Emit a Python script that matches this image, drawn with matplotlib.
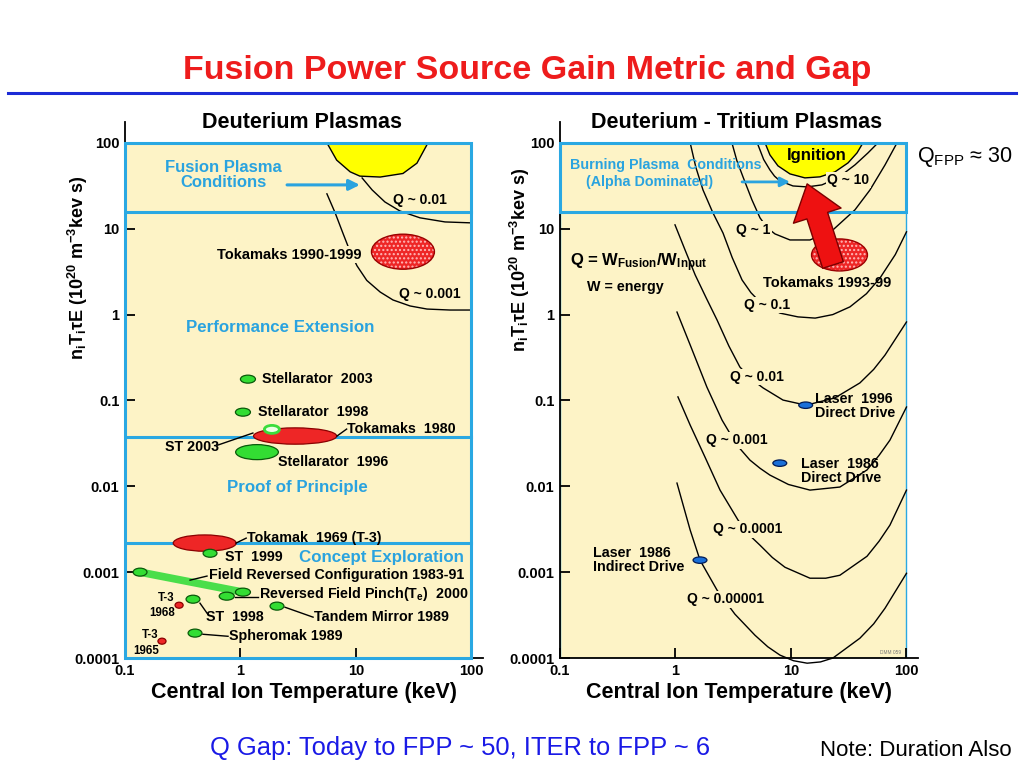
import numpy as np
import matplotlib
matplotlib.use("Agg")
import matplotlib.pyplot as plt
from matplotlib.patches import Ellipse, Rectangle, Polygon
from matplotlib.lines import Line2D

plt.rcParams["font.family"] = ["Liberation Sans", "DejaVu Sans"]
plt.rcParams["mathtext.default"] = "regular"

BG = "#fdf3c6"
BOX = "#2aa8e2"
CYAN = "#2aa3df"

# ---- axes ticks ----
x_ticks = [0.1, 1, 10, 100]
x_tick_labels = ["0.1", "1", "10", "100"]
y_ticks = [1e-4, 1e-3, 1e-2, 1e-1, 1, 10, 100]
y_tick_labels = ["0.0001", "0.001", "0.01", "0.1", "1", "10", "100"]

# ---- Deuterium panel ----
d_bands = [100, 15.8, 0.038, 0.0022]
d_ign_T = [5.6, 6.8, 8.9, 10.8, 16.2, 25.5, 33.7, 42]
d_ign_n = [100, 63, 46, 41, 40, 44, 58, 100]
d_q1e2_T = [11.3, 13.8, 17.8, 24.0, 35.8, 59, 100]
d_q1e2_n = [39, 28.3, 20.5, 16.1, 13.4, 12.0, 11.7]
d_q1e3_T = [5.6, 6.6, 7.7, 8.9, 10.2, 12.4, 16.2, 20.9, 29.4, 41.2, 65.2, 100]
d_q1e3_n = [25.5, 15.3, 8.9, 5.4, 3.7, 2.5, 1.83, 1.48, 1.26, 1.16, 1.13, 1.13]

# devices: T (keV), n T tau, size in decades (w, h), kind
dev_T = [25.5, 1.16, 1.05, 2.97, 1.87, 1.39, 0.49, 0.545, 0.135, 1.05, 0.76,
         0.294, 0.388, 2.07, 0.404, 0.209]
dev_n = [5.4, 0.177, 0.073, 0.0385, 0.046, 0.025, 0.00218, 0.00166, 0.001,
         0.000585, 0.000525, 0.000412, 0.000484, 0.000402, 0.000195, 0.000157]
dev_w = [0.545, 0.13, 0.13, 0.72, 0.13, 0.37, 0.545, 0.12, 0.12, 0.13, 0.13,
         0.07, 0.12, 0.12, 0.12, 0.07]
dev_h = [0.408, 0.093, 0.093, 0.19, 0.093, 0.175, 0.19, 0.093, 0.093, 0.093,
         0.093, 0.07, 0.093, 0.093, 0.093, 0.07]
dev_kind = ["dot", "green", "green", "red", "ring", "green", "red", "green",
            "green", "green", "green", "red", "green", "green", "green", "red"]
frc_T = [0.135, 1.05]
frc_n = [0.001, 0.000585]

# ---- Deuterium-Tritium panel ----
dt_bands = [100, 15.8]
dt_ign_T = [5.96, 6.57, 7.71, 9.8, 13.2, 17.8, 24.0, 31.2, 37.3, 42.0]
dt_ign_n = [100, 72.4, 54, 43.5, 39.1, 40.2, 45.9, 58.5, 76.4, 100]
q_curves = {
    "10": ([5.18, 5.8, 6.57, 7.2, 8.03, 10.4, 13.8, 18.5, 25.5, 35.8, 46.4, 56.6],
           [94.8, 64, 48.4, 41, 36, 31.5, 30.7, 32.4, 39.1, 55.4, 76.4, 100]),
    "1": ([3.08, 3.4, 3.84, 4.59, 5.39, 6.2, 7.27, 9.8, 14.6, 23.1, 35.8, 48.3, 65.2, 82.8],
          [100, 62, 40.2, 21.7, 13.4, 10.3, 8.7, 7.4, 7.4, 9.7, 16.6, 28.3, 55.4, 100]),
    "0.1": ([1.34, 1.5, 1.73, 2.1, 2.58, 3.1, 3.77, 4.5, 5.39, 8.03, 11.5, 16.2, 23, 32.4,
             45, 59, 80, 100],
            [100, 52, 28.3, 15.5, 8.9, 4.6, 2.53, 1.8, 1.40, 1.04, 0.94, 0.91, 1.0, 1.23,
             1.75, 2.67, 5.0, 9.2]),
    "0.01": ([0.99, 1.21, 1.48, 1.85, 2.29, 2.9, 3.61, 4.6, 5.73, 8.53, 13.5, 24, 39.5,
              52, 65.2, 100],
             [11.1, 5.66, 2.9, 1.55, 0.865, 0.43, 0.245, 0.175, 0.14, 0.101, 0.088, 0.107,
              0.16, 0.23, 0.338, 0.82]),
    "0.001": ([1.03, 1.34, 1.87, 2.53, 3.40, 4.41, 5.4, 6.57, 9.5, 14.6, 26.5, 45.5, 58,
               71.9, 100],
              [1.07, 0.443, 0.143, 0.059, 0.0302, 0.0202, 0.0162, 0.0135, 0.0105, 0.00903,
               0.0098, 0.0155, 0.023, 0.0345, 0.0838]),
    "0.0001": ([1.05, 1.34, 1.80, 2.43, 3.48, 4.3, 5.39, 6.9, 8.87, 14.6, 20, 26.5, 45.5,
                58, 71.9, 100],
               [0.110, 0.0516, 0.0219, 0.00903, 0.00404, 0.00275, 0.00206, 0.00148, 0.00114,
                0.00085, 0.00085, 0.00092, 0.00153, 0.0023, 0.00353, 0.00903]),
    "0.00001": ([1.03, 1.34, 1.63, 2.29, 3.27, 4.88, 6.3, 8.03, 10.5, 13.8, 18, 23.1, 39.5,
                 52, 65.2, 100],
                [0.0109, 0.00309, 0.00138, 0.000617, 0.000324, 0.000184, 0.000135, 0.000108,
                 9.3e-5, 8.7e-5, 9.0e-5, 1.0e-4, 0.00017, 0.00025, 0.00038, 0.00097]),
}
tok93_T, tok93_n = 26.3, 4.95
laser_T = [13.4, 8.0, 1.63]
laser_n = [0.088, 0.0186, 0.00138]
gain_from = (23.1, 3.78)
gain_to = (13.8, 33.3)


def setup(ax):
    ax.set_xscale("log")
    ax.set_yscale("log")
    ax.set_xlim(0.1, 125)
    ax.set_ylim(1e-4, 175)
    ax.set_facecolor("none")
    for s in ("top", "right"):
        ax.spines[s].set_visible(False)
    for s in ("left", "bottom"):
        ax.spines[s].set_linewidth(1.3)
    ax.set_xticks(x_ticks)
    ax.set_xticklabels(x_tick_labels)
    ax.set_yticks(y_ticks)
    ax.set_yticklabels(y_tick_labels)
    ax.minorticks_off()
    ax.tick_params(direction="in", length=7, width=1.3, labelsize=10.5, pad=4)
    for lab in ax.get_xticklabels() + ax.get_yticklabels():
        lab.set_fontweight("bold")
    ax.set_xlabel("Central Ion Temperature (keV)", fontsize=15.5, fontweight="bold", labelpad=3)


def blob(ax, T, n, w, h, **kw):
    e = Ellipse((np.log10(T), np.log10(n)), w, h,
                transform=ax.transLimits + ax.transAxes, **kw)
    ax.add_patch(e)


def label(ax, s, T, n, ha="center", size=10.3, mask=False, **kw):
    box = dict(boxstyle="square,pad=0.1", fc=BG, ec="none") if mask else None
    ax.text(T, n, s, ha=ha, va="center", fontsize=size, fontweight="bold",
            bbox=box, zorder=6, **kw)


fig = plt.figure(figsize=(10.24, 7.68), dpi=100)
ax1 = fig.add_axes([125 / 1024, 110 / 768, 0.3493, 0.6979])
ax2 = fig.add_axes([560 / 1024, 110 / 768, 0.3493, 0.6979])
setup(ax1)
setup(ax2)

# ── Deuterium panel ──
ax1.add_patch(Rectangle((0.1, 1e-4), 99.9, 100, facecolor=BG, edgecolor="none", zorder=0))
ax1.add_patch(Rectangle((0.1, 1e-4), 99.9, 100 - 1e-4, facecolor="none",
                        edgecolor=BOX, lw=2.2, zorder=3, clip_on=False))
for b in d_bands[1:]:
    ax1.plot([0.1, 100], [b, b], color=BOX, lw=2.2, zorder=3)

ax1.add_patch(Polygon(np.column_stack([d_ign_T, d_ign_n]), closed=True,
                      facecolor="#ffff00", edgecolor="black", lw=1, zorder=1))
ax1.plot(d_q1e2_T, d_q1e2_n, color="black", lw=1, zorder=2)
ax1.plot(d_q1e3_T, d_q1e3_n, color="black", lw=1, zorder=2)

ax1.plot(frc_T, frc_n, color="#4ade4a", lw=5.5, solid_capstyle="round", zorder=3)
for T, n, w, h, k in zip(dev_T, dev_n, dev_w, dev_h, dev_kind):
    if k == "dot":
        blob(ax1, T, n, w, h, facecolor="#ee2626", edgecolor="#ffb8b8", hatch="....", lw=0, zorder=3)
        blob(ax1, T, n, w, h, fill=False, edgecolor="#9a0000", lw=1, zorder=3)
    elif k == "red":
        blob(ax1, T, n, w, h, facecolor="#ee2626", edgecolor="#8a0000", lw=0.9, zorder=3)
    elif k == "ring":
        blob(ax1, T, n, w, h, facecolor="#eaffe4", edgecolor="#3bdc3b", lw=2, zorder=4)
    else:
        blob(ax1, T, n, w, h, facecolor="#33dd33", edgecolor="#0a5a0a", lw=0.9, zorder=3)

leaders = [((6.85, 0.0385), (8.3, 0.0464)), ((0.627, 0.030), (1.28, 0.0417)),
           ((0.914, 0.00218), (1.12, 0.00249)), ((0.366, 0.000807), (0.513, 0.0009)),
           ((0.895, 0.000513), (1.41, 0.000513)), ((0.446, 0.000435), (0.513, 0.000333)),
           ((2.43, 0.00039), (4.25, 0.000299)), ((0.473, 0.000189), (0.78, 0.000179))]
for (t0, n0), (t1, n1) in leaders:
    ax1.plot([t0, t1], [n0, n1], color="black", lw=1, zorder=4)

ax1.text(0.71, 41.8, "Fusion Plasma\nConditions", color=CYAN, fontsize=12,
         fontweight="bold", ha="center", va="center", linespacing=1.0, zorder=6)
ax1.annotate("", xy=(10.8, 32.4), xytext=(2.53, 32.4),
             arrowprops=dict(arrowstyle="-|>", color=CYAN, lw=2.2, mutation_scale=16,
                             shrinkA=0, shrinkB=0), zorder=6)
for s, T, n in [("Performance Extension", 2.2, 0.70), ("Proof of Principle", 3.08, 0.0098),
                ("Concept Exploration", 16.5, 0.0015)]:
    ax1.text(T, n, s, color=CYAN, fontsize=12.2, fontweight="bold", ha="center",
             va="center", zorder=6)

label(ax1, "Q ~ 0.01", 35.8, 21.7, size=10)
label(ax1, "Q ~ 0.001", 43.7, 1.74, size=10)
label(ax1, "Tokamaks 1990-1999", 11.2, 4.95, ha="right", size=10.5, mask=True)
label(ax1, "Stellarator  2003", 1.53, 0.177, ha="left")
label(ax1, "Stellarator  1998", 1.42, 0.073, ha="left")
label(ax1, "Tokamaks  1980", 8.4, 0.0464, ha="left")
label(ax1, "ST 2003", 0.38, 0.0286)
label(ax1, "Stellarator  1996", 6.32, 0.0191)
label(ax1, "Tokamak  1969 (T-3)", 1.14, 0.00249, ha="left")
label(ax1, "ST  1999", 0.735, 0.0015, ha="left")
label(ax1, "Field Reversed Configuration 1983-91", 0.533, 0.000922, ha="left")
label(ax1, "Reversed Field Pinch(T$_e$)  2000", 1.45, 0.000554, ha="left")
label(ax1, "ST  1998", 0.895, 0.000299)
label(ax1, "Tandem Mirror 1989", 4.3, 0.000299, ha="left")
label(ax1, "Spheromak 1989", 0.80, 0.000179, ha="left")
for s, T, n in [("T-3", 0.226, 0.000498), ("1968", 0.209, 0.000333),
                ("T-3", 0.164, 0.000185), ("1965", 0.152, 0.00012)]:
    label(ax1, s, T, n, size=8.3)

# ── Deuterium-Tritium panel ──
ax2.add_patch(Rectangle((0.1, 1e-4), 99.9, 100 - 1e-4, facecolor=BG, edgecolor=BOX,
                        lw=1, zorder=0))
ax2.add_patch(Rectangle((0.1, dt_bands[1]), 99.9, dt_bands[0] - dt_bands[1],
                        facecolor="none", edgecolor=BOX, lw=2.2, zorder=3, clip_on=False))
ax2.add_patch(Polygon(np.column_stack([dt_ign_T, dt_ign_n]), closed=True,
                      facecolor="#ffff00", edgecolor="black", lw=1, zorder=1))
for name, (T, n) in q_curves.items():
    ax2.plot(T, n, color="black", lw=1, zorder=2, clip_on=False)

blob(ax2, tok93_T, tok93_n, 0.484, 0.373, facecolor="#ee2626", edgecolor="#ffb8b8",
     hatch="....", lw=0, zorder=3)
blob(ax2, tok93_T, tok93_n, 0.484, 0.373, fill=False, edgecolor="#9a0000", lw=1, zorder=3)
for T, n in zip(laser_T, laser_n):
    blob(ax2, T, n, 0.12, 0.075, facecolor="#1a6fd8", edgecolor="#001a55", lw=0.9, zorder=4)

ax2.annotate("", xy=gain_to, xytext=gain_from,
             arrowprops=dict(arrowstyle="simple,head_length=2.0,head_width=3.0,tail_width=1.3",
                             facecolor="#ee1111", edgecolor="#7a0000", lw=1,
                             mutation_scale=12, shrinkA=0, shrinkB=0), zorder=7)

ax2.text(0.83, 55.4, "Burning Plasma  Conditions", color=CYAN, fontsize=10.3,
         fontweight="bold", ha="center", va="center", zorder=6)
ax2.text(0.60, 35.1, "(Alpha Dominated)", color=CYAN, fontsize=10.3,
         fontweight="bold", ha="center", va="center", zorder=6)
ax2.annotate("", xy=(9.8, 35.1), xytext=(3.77, 35.1),
             arrowprops=dict(arrowstyle="-|>", color=CYAN, lw=2, mutation_scale=14,
                             shrinkA=0, shrinkB=0), zorder=6)
label(ax2, "Ignition", 16.8, 72, size=12)
label(ax2, "Q ~ 10", 31.2, 37, mask=True, size=10)
label(ax2, "Q ~ 1", 4.69, 9.7, mask=True, size=10)
label(ax2, "Q ~ 0.1", 6.2, 1.29, mask=True, size=10)
label(ax2, "Q ~ 0.01", 5.08, 0.187, mask=True, size=10)
label(ax2, "Q ~ 0.001", 3.4, 0.0345, mask=True, size=10)
label(ax2, "Q ~ 0.0001", 4.25, 0.00317, mask=True, size=10)
label(ax2, "Q ~ 0.00001", 2.69, 0.000484, mask=True, size=10)
label(ax2, "Q = W$_{Fusion}$/W$_{Input}$", 0.122, 4.0, ha="left", size=12)
label(ax2, "W = energy", 0.171, 2.1, ha="left")
label(ax2, "Tokamaks 1993-99", 20.5, 2.33, size=10.5)
label(ax2, "Laser  1996\nDirect Drive", 16.1, 0.085, ha="left", linespacing=1.0)
label(ax2, "Laser  1986\nDirect Drive", 12.2, 0.015, ha="left", linespacing=1.0)
label(ax2, "Laser  1986\nIndirect Drive", 0.193, 0.00138, ha="left", linespacing=1.0)
ax2.text(90, 1.15e-4, "DMM 059", fontsize=3.5, color="#777777", ha="right", va="center")

# ── figure texts ──
fig.text(0.515, 1 - 70 / 768, "Fusion Power Source Gain Metric and Gap", color="#ee1c1c",
         fontsize=24.5, fontweight="bold", ha="center", va="center")
fig.add_artist(Line2D([8 / 1024, 1016 / 1024], [1 - 93 / 768] * 2, color="#1c2bd6", lw=2.2))
fig.text(302 / 1024, 1 - 122 / 768, "Deuterium Plasmas", fontsize=15.5, fontweight="bold",
         ha="center", va="center")
fig.text(737 / 1024, 1 - 122 / 768, "Deuterium - Tritium Plasmas", fontsize=15.5,
         fontweight="bold", ha="center", va="center")
ylab = "n$_i$T$_i$τE (10$^{20}$ m$^{-3}$kev s)"
fig.text(78 / 1024, 1 - 268 / 768, ylab, rotation=90, fontsize=13, fontweight="bold",
         ha="center", va="center")
fig.text(520 / 1024, 1 - 260 / 768, ylab, rotation=90, fontsize=13, fontweight="bold",
         ha="center", va="center")
fig.text(917 / 1024, 1 - 157 / 768, "Q$_{FPP}$ ≈ 30", fontsize=15.5, ha="left", va="center")
fig.text(460 / 1024, 1 - 748 / 768, "Q Gap: Today to FPP ~ 50, ITER to FPP ~ 6",
         color="#1a1ae6", fontsize=18.4, ha="center", va="center")
fig.text(916 / 1024, 1 - 750 / 768, "Note: Duration Also", fontsize=16, ha="center",
         va="center")

fig.savefig("out.png", dpi=100)
